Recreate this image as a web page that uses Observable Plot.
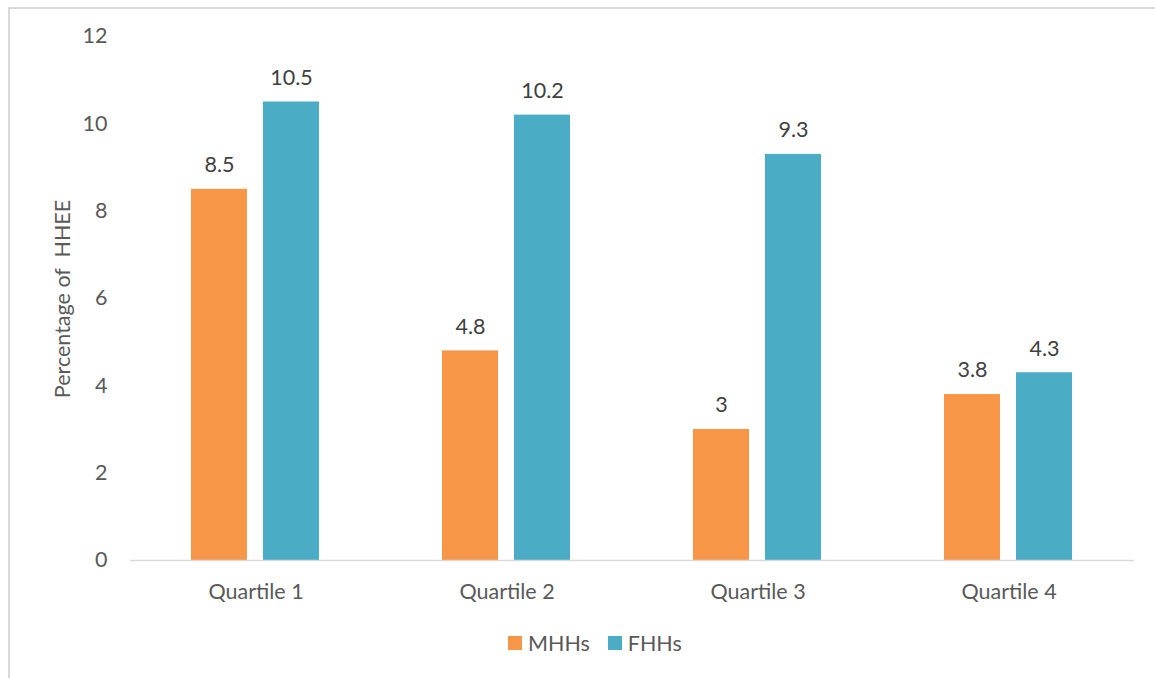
<!DOCTYPE html>
<html>
<head>
<meta charset="utf-8">
<script src="https://cdn.jsdelivr.net/npm/d3@7"></script>
<script src="https://cdn.jsdelivr.net/npm/@observablehq/plot@0.6"></script>
<style>
  body { margin: 0; background: #fff; }
  #wrap { position: relative; width: 1155px; height: 678px; overflow: hidden; font-family: "Lato", sans-serif; }
  #frame { position: absolute; left: 8px; top: 7px; width: 1200px; height: 700px; border-left: 2px solid #d9d9d9; border-top: 2px solid #d9d9d9; box-sizing: border-box; }
  #chart { position: absolute; left: 0; top: 0; }
  #ylabel { position: absolute; left: 62px; top: 299px; transform: translate(-50%, -50%) rotate(-90deg); white-space: pre; font-size: 21.5px; color: #595959; }
  #legend { position: absolute; left: 508px; top: 630px; display: flex; align-items: center; font-size: 21.5px; color: #595959; }
  .sw { width: 14px; height: 14px; display: inline-block; margin-right: 6px; }
  .item { display: flex; align-items: center; margin-right: 18px; }
</style>
</head>
<body>
<div id="wrap">
  <div id="frame"></div>
  <div id="chart"></div>
  <div id="ylabel"></div>
  <div id="legend"></div>
</div>
<script>
const quartiles = ["Quartile 1", "Quartile 2", "Quartile 3", "Quartile 4"];
const seriesNames = ["MHHs", "FHHs"];
const mhhs = [8.5, 4.8, 3, 3.8];
const fhhs = [10.5, 10.2, 9.3, 4.3];
const colors = ["#F79646", "#4BACC6"];
const yTicks = [0, 2, 4, 6, 8, 10, 12];
const yTitle = "Percentage of  HHEE";

const data = [];
quartiles.forEach((q, i) => {
  data.push({quartile: q, series: "MHHs", value: mhhs[i]});
  data.push({quartile: q, series: "FHHs", value: fhhs[i]});
});

const chart = Plot.plot({
  width: 1155,
  height: 678,
  marginLeft: 130,
  marginRight: 21,
  marginTop: 36,
  marginBottom: 118,
  style: {fontFamily: "Lato, sans-serif", fontSize: "21.5px", color: "#595959", background: "transparent"},
  fx: {domain: quartiles, padding: 0, label: null, axis: "bottom", tickSize: 0, tickPadding: 23},
  x: {domain: seriesNames, paddingInner: 0.222, paddingOuter: 0.854, axis: null},
  y: {domain: [0, 12], ticks: yTicks, tickSize: 0, tickPadding: 23, label: null, tickFormat: d => String(d)},
  color: {domain: seriesNames, range: colors},
  marks: [
    Plot.barY(data, {fx: "quartile", x: "series", y: "value", fill: "series"}),
    Plot.ruleY([0], {stroke: "#d9d9d9", strokeWidth: 1.5}),
    Plot.text(data, {fx: "quartile", x: "series", y: "value", text: d => String(d.value), dy: -24, fill: "#404040", fontSize: 21.5})
  ]
});
document.getElementById("chart").appendChild(chart);

document.getElementById("ylabel").textContent = yTitle;

const legend = document.getElementById("legend");
seriesNames.forEach((s, i) => {
  const item = document.createElement("div");
  item.className = "item";
  item.innerHTML = `<span class="sw" style="background:${colors[i]}"></span><span>${s}</span>`;
  legend.appendChild(item);
});
</script>
</body>
</html>
